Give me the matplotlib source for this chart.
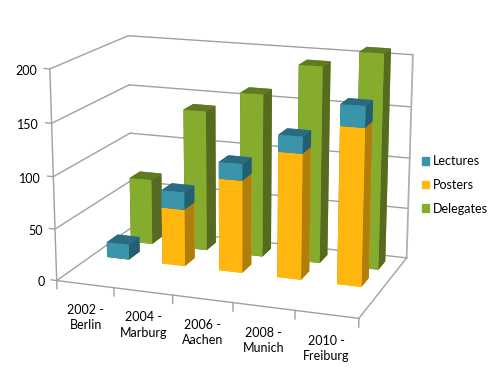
import matplotlib
matplotlib.use("Agg")
import matplotlib.pyplot as plt
from matplotlib.patches import Patch
from mpl_toolkits.mplot3d import proj3d

W, H = 495, 381
years = ["2002 -\nBerlin", "2004 -\nMarburg", "2006 -\nAachen", "2008 -\nMunich", "2010 -\nFreiburg"]
lectures = [15, 17, 16, 16, 20]
posters = [0, 56, 90, 121, 150]
delegates = [66, 140, 161, 192, 208]
z_ticks = [0, 50, 100, 150, 200]

plt.rcParams["font.family"] = ["Lato", "DejaVu Sans"]
fig = plt.figure(figsize=(W / 100, H / 100), dpi=100)

# camera fitted to the corners of the reference
S = 800
dx, dy = -22.835, -12.499
ax = fig.add_axes([(W / 2 + dx - S / 2) / W, (H / 2 - dy - S / 2) / H, S / W, S / H], projection="3d")
ax.view_init(elev=15.247, azim=-70.219)
ax.set_proj_type("persp", focal_length=0.356)
ax.set_box_aspect((1.449, 0.871, 1), zoom=0.512)
ax.set_xlim(0, 5)
ax.set_ylim(0, 1)
ax.set_zlim(0, 200)
ax.set_autoscale_on(False)
ax.set_xticks([])
ax.set_yticks([])
ax.set_zticks([])
ax.set_axis_off()
ax.computed_zorder = False
ax.apply_aspect()

def label(x, y, z, s, **kw):
    # 3d anchor -> figure position, so the text sits in plain figure coordinates
    px, py, _ = proj3d.proj_transform(x, y, z, ax.get_proj())
    fx, fy = fig.transFigure.inverted().transform(ax.transData.transform((px, py)))
    fig.text(fx, fy, s, **kw)

grid = "#A0A0A0"
for z in z_ticks:
    ax.plot([0, 0], [0, 1], [z, z], color=grid, lw=1)
    ax.plot([0, 5], [1, 1], [z, z], color=grid, lw=1)
    ax.plot([-0.1, 0], [0, 0], [z, z], color=grid, lw=1)
    label(-0.22, 0, z - 3, str(z), ha="right", va="center", fontsize=9)
ax.plot([0, 0], [0, 0], [0, 200], color=grid, lw=1)
ax.plot([5, 5], [1, 1], [0, 200], color="#B0B0B0", lw=1.3)
ax.plot([0, 5], [0, 0], [0, 0], color=grid, lw=1)
ax.plot([5, 5], [0, 1], [0, 0], color=grid, lw=1)
for i in range(6):
    ax.plot([i, i], [0, 0], [0, -8], color=grid, lw=1)
for i, lab in enumerate(years):
    label(i + 0.5, 0, -19, lab, ha="center", va="top", fontsize=9, linespacing=1.35)

def bars(x0, y, depth, bottom, height, colors, zo):
    for i in range(5):
        c = ax.bar3d(i + x0, y, bottom[i], 0.40, depth, height[i], color=colors, shade=False)
        c.set_zorder(zo - i * 0.01)

def faces(front, side, top):
    # bar3d order: bottom, top, front, back, left, right
    return [top, top, front, front, side, side]

bars(0.31, 0.75, 0.15, [0] * 5, delegates, faces("#86AC2E", "#566B20", "#5F7A22"), 3)
bars(0.27, 0.45, 0.15, [0] * 5, posters, faces("#FFB60E", "#B07F0B", "#FFB60E"), 4)
bars(0.27, 0.45, 0.15, posters, lectures, faces("#3A95AB", "#245F70", "#2A6B80"), 5)

ax.set_xlim(0, 5)
ax.set_ylim(0, 1)
ax.set_zlim(0, 200)

handles = [Patch(color="#3A95AB"), Patch(color="#FFB60E"), Patch(color="#86AC2E")]
fig.legend(handles, ["Lectures", "Posters", "Delegates"], loc="center left", bbox_to_anchor=(411 / W, 1 - 185 / H),
           frameon=False, fontsize=9, handlelength=0.55, handleheight=0.55, handletextpad=0.3, labelspacing=0.93)

fig.savefig("out.png", dpi=100)
